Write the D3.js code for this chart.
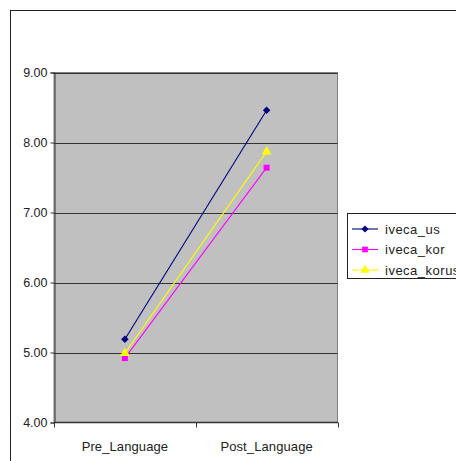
<!DOCTYPE html>
<html>
<head>
<meta charset="utf-8">
<script src="https://cdn.jsdelivr.net/npm/d3@7"></script>
<style>
  html, body { margin: 0; padding: 0; background: #fff; }
  svg { display: block; font-family: "Liberation Sans", Arial, sans-serif; }
</style>
</head>
<body>
<svg id="chart" width="456" height="461"></svg>
<script>
// Survey score means before and after the language course
const categories = ["Pre_Language", "Post_Language"];
const seriesNames = ["iveca_us", "iveca_kor", "iveca_korus"];
const usValues = [5.19, 8.46];
const korValues = [4.92, 7.64];
const korusValues = [4.99, 7.87];
const yTicks = [4, 5, 6, 7, 8, 9];

// square diamond (equal width and height)
const symbolRhombus = {
  draw(context, size) {
    const r = Math.sqrt(size / 2);
    context.moveTo(0, -r);
    context.lineTo(r, 0);
    context.lineTo(0, r);
    context.lineTo(-r, 0);
    context.closePath();
  }
};

const seriesColors = ["#000080", "#ff00ff", "#ffff00"];
const seriesShapes = [symbolRhombus, d3.symbolSquare, d3.symbolTriangle];
const seriesSizes = [28, 36, 40];
const seriesValues = [usValues, korValues, korusValues];

const svg = d3.select("#chart");

// chart border
svg.append("rect")
  .attr("x", 10.5).attr("y", 10.5)
  .attr("width", 460).attr("height", 470)
  .attr("fill", "none").attr("stroke", "#222").attr("stroke-width", 1);

const plot = { left: 54, right: 337.5, top: 72.5, bottom: 422.5 };

const x = d3.scaleBand().domain(categories).range([plot.left, plot.right]);
const y = d3.scaleLinear().domain([4, 9]).range([plot.bottom, plot.top]);

// plot background
svg.append("rect")
  .attr("x", plot.left).attr("y", plot.top)
  .attr("width", plot.right - plot.left).attr("height", plot.bottom - plot.top)
  .attr("fill", "#c0c0c0").attr("stroke", "#808080").attr("stroke-width", 1);

// horizontal gridlines
svg.append("g").selectAll("line")
  .data(yTicks.filter(t => t > 4))
  .join("line")
  .attr("x1", plot.left).attr("x2", plot.right)
  .attr("y1", d => Math.round(y(d)) + 0.5).attr("y2", d => Math.round(y(d)) + 0.5)
  .attr("stroke", "#333").attr("stroke-width", 1);

// y axis
const yAxis = svg.append("g")
  .attr("transform", `translate(${plot.left + 0.5},0)`)
  .call(d3.axisLeft(y).tickValues(yTicks).tickFormat(d3.format(".2f")).tickSize(4).tickPadding(3));
yAxis.select(".domain").attr("stroke", "#333");
yAxis.selectAll(".tick line").attr("stroke", "#333");
yAxis.selectAll(".tick text").attr("font-size", 12.5).attr("fill", "#222")
  .attr("font-family", "'Liberation Sans', Arial, sans-serif");

// x axis with ticks at category boundaries
const xAxis = svg.append("g")
  .attr("transform", `translate(0,${plot.bottom})`);
xAxis.append("line")
  .attr("x1", plot.left).attr("x2", plot.right + 0.5)
  .attr("y1", 0).attr("y2", 0)
  .attr("stroke", "#333").attr("stroke-width", 1.5);
const bounds = [plot.left, x(categories[1]), plot.right];
xAxis.selectAll("line.tk").data(bounds).join("line").attr("class", "tk")
  .attr("x1", d => Math.round(d) + 0.5).attr("x2", d => Math.round(d) + 0.5)
  .attr("y1", 0).attr("y2", 5)
  .attr("stroke", "#333");
xAxis.selectAll("text").data(categories).join("text")
  .attr("x", d => x(d) + x.bandwidth() / 2)
  .attr("y", 28)
  .attr("text-anchor", "middle")
  .attr("font-size", 13).attr("letter-spacing", 0.1).attr("fill", "#222")
  .text(d => d);

// series lines and markers
const line = d3.line()
  .x((d, i) => x(categories[i]) + x.bandwidth() / 2)
  .y(d => y(d));

seriesValues.forEach((vals, s) => {
  svg.append("path")
    .datum(vals)
    .attr("d", line)
    .attr("fill", "none")
    .attr("stroke", seriesColors[s])
    .attr("stroke-width", 1.1);
  svg.append("g").selectAll("path")
    .data(vals)
    .join("path")
    .attr("transform", (d, i) => `translate(${x(categories[i]) + x.bandwidth() / 2},${y(d)})`)
    .attr("d", d3.symbol().type(seriesShapes[s]).size(seriesSizes[s]))
    .attr("fill", seriesColors[s]);
});

// legend
const legend = svg.append("g");
legend.append("rect")
  .attr("x", 347.5).attr("y", 213.5)
  .attr("width", 130).attr("height", 65)
  .attr("fill", "#fff").attr("stroke", "#222");
seriesNames.forEach((name, s) => {
  const ly = 229 + s * 20.5;
  legend.append("line")
    .attr("x1", 352).attr("x2", 378)
    .attr("y1", ly).attr("y2", ly)
    .attr("stroke", seriesColors[s]).attr("stroke-width", 1.1);
  legend.append("path")
    .attr("transform", `translate(365,${ly})`)
    .attr("d", d3.symbol().type(seriesShapes[s]).size(seriesSizes[s] * 0.9))
    .attr("fill", seriesColors[s]);
  legend.append("text")
    .attr("x", 385).attr("y", ly + 4.5)
    .attr("font-size", 13).attr("letter-spacing", 0.5).attr("fill", "#222")
    .text(name);
});
</script>
</body>
</html>
